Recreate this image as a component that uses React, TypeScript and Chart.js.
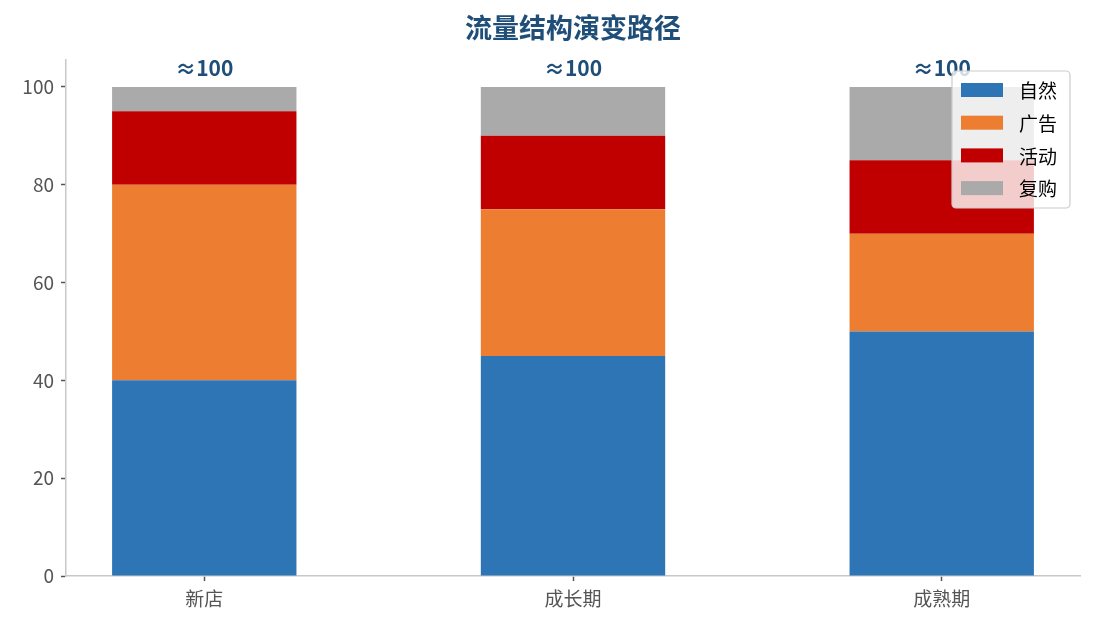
import { Chart, registerables } from "chart.js";
import { useEffect, useRef } from "react";

Chart.register(...registerables);

const stages = ["新店", "成长期", "成熟期"];
const natural = [40, 45, 50];
const ads = [40, 30, 20];
const events = [15, 15, 15];
const repeat = [5, 10, 15];
const seriesNames = ["自然", "广告", "活动", "复购"];
const seriesColors = ["#2e75b6", "#ed7d31", "#c00000", "#aaaaaa"];
const yTicks = [0, 20, 40, 60, 80, 100];
const totalLabel = "≈100";

const FONT = "'Noto Sans CJK SC', 'Noto Sans', sans-serif";

export default function App() {
    const chartRef = useRef<HTMLCanvasElement | null>(null);

    useEffect(() => {
        document.body.style.margin = "0";
        if (!chartRef.current) return;

        const toPoints = (arr: number[]) => arr.map((v, i) => ({ x: i, y: v }));
        const allSeries = [natural, ads, events, repeat];

        const overlay = {
            id: "overlay",
            afterDraw(chart: any) {
                const ctx = chart.ctx;
                const xs = chart.scales.x;
                const ys = chart.scales.y;
                ctx.save();
                // title
                ctx.fillStyle = "#1f4e79";
                ctx.font = `bold 27px ${FONT}`;
                ctx.textAlign = "center";
                ctx.textBaseline = "middle";
                ctx.fillText("流量结构演变路径", (xs.left + xs.right) / 2, 28);
                // totals above bars
                ctx.font = `bold 21px ${FONT}`;
                stages.forEach((_, i) => {
                    const total = allSeries.reduce((s, a) => s + a[i], 0);
                    ctx.fillText(totalLabel, xs.getPixelForValue(i), ys.getPixelForValue(total) - 19);
                });
                // legend
                const lx = 952, ly = 71, lw = 118, lh = 137;
                ctx.fillStyle = "rgba(255,255,255,0.8)";
                ctx.strokeStyle = "#cccccc";
                ctx.lineWidth = 1.2;
                ctx.beginPath();
                ctx.roundRect(lx, ly, lw, lh, 4);
                ctx.fill();
                ctx.stroke();
                ctx.font = `19px ${FONT}`;
                ctx.textAlign = "left";
                seriesNames.forEach((name, i) => {
                    const cy = 90 + i * 32.7;
                    ctx.fillStyle = seriesColors[i];
                    ctx.fillRect(961, cy - 7, 42, 14);
                    ctx.fillStyle = "#000000";
                    ctx.fillText(name, 1019, cy + 1);
                });
                ctx.restore();
            },
        };

        const chartInstance = new Chart(chartRef.current, {
            type: "bar",
            data: {
                datasets: allSeries.map((arr, i) => ({
                    label: seriesNames[i],
                    data: toPoints(arr),
                    backgroundColor: seriesColors[i],
                    borderWidth: 0,
                    stack: "total",
                    barPercentage: 1,
                    categoryPercentage: 0.5,
                })),
            },
            options: {
                animation: false,
                responsive: false,
                layout: { padding: { top: 60, right: 15, left: 8, bottom: 0 } },
                plugins: {
                    legend: { display: false },
                    tooltip: { enabled: false },
                },
                scales: {
                    x: {
                        type: "linear",
                        offset: false,
                        min: -0.375,
                        max: 2.375,
                        afterBuildTicks: (scale: any) => {
                            scale.ticks = stages.map((_, i) => ({ value: i }));
                        },
                        afterFit: (scale: any) => {
                            scale.height = 53;
                        },
                        ticks: {
                            callback: (v: any) => stages[Number(v)] ?? "",
                            color: "#555555",
                            font: { family: FONT, size: 19 },
                            padding: 6,
                            maxRotation: 0,
                        },
                        grid: { offset: false, drawOnChartArea: false, color: "#555555", tickLength: 5, tickWidth: 1.5 },
                        border: { color: "#c8c8c8", width: 1.5 },
                    },
                    y: {
                        stacked: true,
                        min: 0,
                        max: 105.5,
                        afterBuildTicks: (scale: any) => {
                            scale.ticks = yTicks.map((v) => ({ value: v }));
                        },
                        afterFit: (scale: any) => {
                            scale.width = 58;
                        },
                        ticks: {
                            color: "#555555",
                            font: { family: FONT, size: 19 },
                            padding: 7,
                        },
                        grid: { drawOnChartArea: false, color: "#555555", tickLength: 5, tickWidth: 1.5 },
                        border: { color: "#c8c8c8", width: 1.5 },
                    },
                },
            },
            plugins: [overlay],
        });
        return () => {
            chartInstance.destroy();
        };
    }, []);

    return (
        <div style={{ width: 1095, height: 629, background: "#fff" }}>
            <canvas ref={chartRef} width={1095} height={629} />
        </div>
    );
}
